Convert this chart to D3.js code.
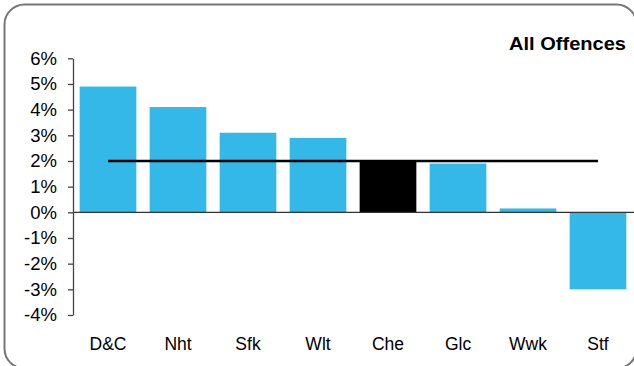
<!DOCTYPE html>
<html>
<head>
<meta charset="utf-8">
<script src="https://cdn.jsdelivr.net/npm/d3@7"></script>
<style>
body { margin: 0; background: #fff; }
svg { display: block; font-family: "Liberation Sans", Arial, sans-serif; }
</style>
</head>
<body>
<div id="chart"></div>
<script>
var areas = ["D&C", "Nht", "Sfk", "Wlt", "Che", "Glc", "Wwk", "Stf"];
var change = [4.9, 4.1, 3.1, 2.9, 2.0, 1.9, 0.15, -3.0];
var highlight = "Che";
var average = 2.0;
var yTicks = [-4, -3, -2, -1, 0, 1, 2, 3, 4, 5, 6];

var svgWidth = 634,
    svgHeight = 366,
    svg = d3.select('#chart').append('svg').attr('width', svgWidth).attr('height', svgHeight);

// rounded frame running off the right and bottom edges
svg.append('rect')
    .attr('x', 4.5).attr('y', 4.5)
    .attr('width', 632).attr('height', 364)
    .attr('rx', 20).attr('ry', 20)
    .attr('fill', 'none')
    .attr('stroke', '#777')
    .attr('stroke-width', 2);

var x = d3.scaleBand().domain(areas).range([73, 633]).paddingInner(0.19).paddingOuter(0.095);
var y = d3.scaleLinear().domain([-4, 6]).range([315, 58.3]);

svg.selectAll('.bar').data(areas)
    .enter().append('rect')
    .attr('class', 'bar')
    .attr('x', function(d) { return x(d); })
    .attr('width', x.bandwidth())
    .attr('y', function(d, i) { return y(Math.max(0, change[i])); })
    .attr('height', function(d, i) { return Math.abs(y(change[i]) - y(0)); })
    .attr('fill', function(d) { return d == highlight ? '#000' : '#33b8e8'; });

// zero line
svg.append('line')
    .attr('x1', 73).attr('x2', 634)
    .attr('y1', y(0)).attr('y2', y(0))
    .attr('stroke', '#333').attr('stroke-width', 1.3);

// average line, centre of first band to centre of last
svg.append('line')
    .attr('x1', x(areas[0]) + x.bandwidth() / 2)
    .attr('x2', x(areas[areas.length - 1]) + x.bandwidth() / 2)
    .attr('y1', y(average)).attr('y2', y(average))
    .attr('stroke', '#000').attr('stroke-width', 2.7);

var yAxis = svg.append('g')
    .attr('transform', 'translate(73,0)')
    .call(d3.axisLeft(y).tickValues(yTicks).tickSize(5).tickSizeOuter(0).tickPadding(11)
        .tickFormat(function(d) { return d + '%'; }));
yAxis.select('.domain').attr('stroke', '#444').attr('stroke-width', 1.3);
yAxis.selectAll('.tick line').attr('stroke', '#444').attr('stroke-width', 1.3);
yAxis.selectAll('.tick text').attr('fill', '#000')
    .style('font-size', '18.5px').style('font-family', '"Liberation Sans", Arial, sans-serif');

svg.selectAll('.cat').data(areas)
    .enter().append('text')
    .attr('class', 'cat')
    .attr('x', function(d) { return x(d) + x.bandwidth() / 2; })
    .attr('y', 350)
    .attr('text-anchor', 'middle')
    .style('font-size', '17.5px')
    .text(function(d) { return d; });

svg.append('text')
    .attr('x', 626).attr('y', 50)
    .attr('text-anchor', 'end')
    .attr('textLength', 117)
    .attr('lengthAdjust', 'spacingAndGlyphs')
    .style('font-size', '17.5px')
    .style('font-weight', 'bold')
    .text('All Offences');
</script>
</body>
</html>
